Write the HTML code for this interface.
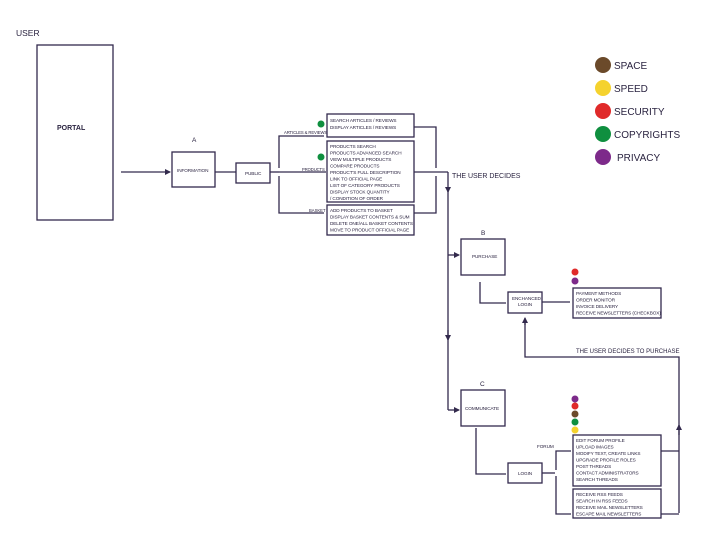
<!DOCTYPE html>
<html><head><meta charset="utf-8"><style>
html,body{margin:0;padding:0;background:#fff;}
svg{display:block;}
text{font-family:"Liberation Sans",sans-serif;fill:#2a2340;}
.s{font-size:4.7px;letter-spacing:-0.1px;}
</style></head><body>
<svg width="702" height="553" viewBox="0 0 702 553" xmlns="http://www.w3.org/2000/svg">
<defs><marker id="a" markerWidth="6" markerHeight="6" refX="5" refY="3" orient="auto" markerUnits="userSpaceOnUse"><path d="M0,0 L6,3 L0,6 z" fill="#332a4d"/></marker></defs>
<g fill="none" stroke="#332a4d" stroke-width="1.3">
<rect x="37" y="45" width="76" height="175"/>
<line x1="121" y1="172" x2="170" y2="172" marker-end="url(#a)"/>
<rect x="172" y="152" width="43" height="35"/>
<line x1="215" y1="172" x2="236" y2="172"/>
<rect x="236" y="163" width="34" height="20"/>
<line x1="270" y1="172" x2="279" y2="172"/>
<path d="M279,168 V136 H324"/>
<path d="M279,176 V213 H324"/>
<line x1="279" y1="172" x2="326" y2="172"/>
<rect x="327" y="114" width="87" height="23"/>
<rect x="327" y="141" width="87" height="61"/>
<rect x="327" y="205" width="87" height="30"/>
<path d="M414,127 H436 V168"/>
<path d="M414,213 H436 V176"/>
<line x1="414" y1="172" x2="448" y2="172"/>
<line x1="448" y1="172" x2="448" y2="192" marker-end="url(#a)"/>
<line x1="448" y1="190" x2="448" y2="410"/>
<line x1="448" y1="255" x2="459" y2="255" marker-end="url(#a)"/>
<line x1="448" y1="410" x2="459" y2="410" marker-end="url(#a)"/>
<line x1="448" y1="330" x2="448" y2="340" marker-end="url(#a)"/>
<rect x="461" y="239" width="44" height="36"/>
<rect x="461" y="390" width="44" height="36"/>
<path d="M480,282 V303 H506"/>
<rect x="508" y="292" width="34" height="21"/>
<line x1="542" y1="302" x2="570" y2="302"/>
<rect x="573" y="288" width="88" height="30"/>
<path d="M679,513 V357 H525 V322"/>
<line x1="525" y1="325" x2="525" y2="318" marker-end="url(#a)"/>
<line x1="679" y1="435" x2="679" y2="425" marker-end="url(#a)"/>
<path d="M476,428 V474 H506"/>
<rect x="508" y="463" width="34" height="20"/>
<line x1="542" y1="473" x2="555" y2="473"/>
<path d="M556,470 V451 H571"/>
<path d="M556,476 V514 H571"/>
<rect x="573" y="435" width="88" height="51"/>
<rect x="573" y="489" width="88" height="29"/>
<line x1="661" y1="451" x2="679" y2="451"/>
<line x1="661" y1="514" x2="679" y2="514"/>
</g>
<text x="16" y="36" font-size="8.5">USER</text>
<text x="57" y="130" font-size="7" font-weight="bold">PORTAL</text>
<text x="192" y="142" font-size="6.5">A</text>
<text x="177" y="172" class="s">INFORMATION</text>
<text x="245" y="175" class="s">PUBLIC</text>
<text x="284" y="134" font-size="4.2" letter-spacing="-0.1">ARTICLES &amp; REVIEWS</text>
<text x="302" y="171" font-size="4.2" letter-spacing="-0.1">PRODUCTS</text>
<text x="309" y="212" font-size="4.2">BASKET</text>
<g class="s">
<text x="330" y="122">SEARCH ARTICLES / REVIEWS</text>
<text x="330" y="129">DISPLAY ARTICLES / REVIEWS</text>
<text x="330" y="148">PRODUCTS SEARCH</text>
<text x="330" y="154.5">PRODUCTS ADVANCED SEARCH</text>
<text x="330" y="161">VIEW MULTIPLE PRODUCTS</text>
<text x="330" y="167.5">COMPARE PRODUCTS</text>
<text x="330" y="174">PRODUCT'S FULL DESCRIPTION</text>
<text x="330" y="180.5">LINK TO OFFICIAL PAGE</text>
<text x="330" y="187">LIST OF CATEGORY PRODUCTS</text>
<text x="330" y="193.5">DISPLAY STOCK QUANTITY</text>
<text x="330" y="200">/ CONDITION OF ORDER</text>
<text x="330" y="212">ADD PRODUCTS TO BASKET</text>
<text x="330" y="218.5">DISPLAY BASKET CONTENTS &amp; SUM</text>
<text x="330" y="225">DELETE ONE/ALL BASKET CONTENTS</text>
<text x="330" y="231.5">MOVE TO PRODUCT OFFICIAL PAGE</text>
<text x="576" y="295">PAYMENT METHODS</text>
<text x="576" y="301.5">ORDER MONITOR</text>
<text x="576" y="308">INVOICE DELIVERY</text>
<text x="576" y="314.5">RECEIVE NEWSLETTERS (CHECKBOX)</text>
<text x="576" y="442">EDIT FORUM PROFILE</text>
<text x="576" y="448.5">UPLOAD IMAGES</text>
<text x="576" y="455">MODIFY TEXT, CREATE LINKS</text>
<text x="576" y="461.5">UPGRADE PROFILE ROLES</text>
<text x="576" y="468">POST THREADS</text>
<text x="576" y="474.5">CONTACT ADMINISTRATORS</text>
<text x="576" y="481">SEARCH THREADS</text>
<text x="576" y="496">RECEIVE RSS FEEDS</text>
<text x="576" y="502.5">SEARCH IN RSS FEEDS</text>
<text x="576" y="509">RECEIVE MAIL NEWSLETTERS</text>
<text x="576" y="515.5">ESCAPE MAIL NEWSLETTERS</text>
</g>
<text x="452" y="178" font-size="7">THE USER DECIDES</text>
<text x="576" y="353" font-size="6">THE USER DECIDES TO PURCHASE</text>
<text x="481" y="235" font-size="6.5">B</text>
<text x="472" y="258" class="s">PURCHASE</text>
<text x="480" y="386" font-size="6.5">C</text>
<text x="465" y="410" class="s">COMMUNICATE</text>
<text x="512" y="300" class="s">ENCHANCED</text>
<text x="518" y="306" class="s">LOGIN</text>
<text x="518" y="475" class="s">LOGIN</text>
<text x="537" y="448" class="s">FORUM</text>
<circle cx="321" cy="124" r="3.5" fill="#0f8f3f"/>
<circle cx="321" cy="157" r="3.5" fill="#0f8f3f"/>
<circle cx="575" cy="272" r="3.5" fill="#e02a2a"/>
<circle cx="575" cy="281" r="3.5" fill="#7d2a8a"/>
<circle cx="575" cy="399" r="3.5" fill="#7d2a8a"/>
<circle cx="575" cy="406" r="3.5" fill="#e02a2a"/>
<circle cx="575" cy="414" r="3.5" fill="#6b4a2a"/>
<circle cx="575" cy="422" r="3.5" fill="#0f8f3f"/>
<circle cx="575" cy="430" r="3.5" fill="#f5d22e"/>
<circle cx="603" cy="65" r="8" fill="#6b4a2a"/>
<circle cx="603" cy="88" r="8" fill="#f5d22e"/>
<circle cx="603" cy="111" r="8" fill="#e02a2a"/>
<circle cx="603" cy="134" r="8" fill="#0f8f3f"/>
<circle cx="603" cy="157" r="8" fill="#7d2a8a"/>
<g font-size="10">
<text x="614" y="69">SPACE</text>
<text x="614" y="92">SPEED</text>
<text x="614" y="115">SECURITY</text>
<text x="614" y="138">COPYRIGHTS</text>
<text x="617" y="161">PRIVACY</text>
</g>
</svg>
</body></html>
